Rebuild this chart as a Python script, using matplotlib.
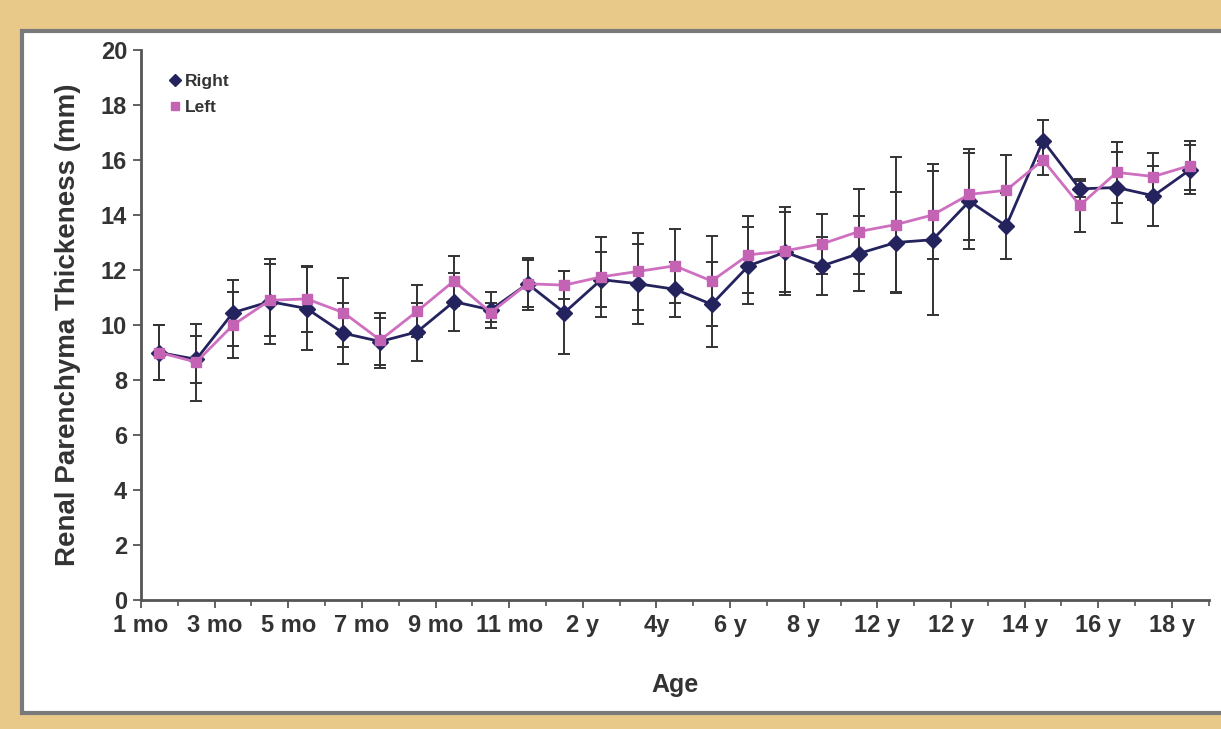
# renal parenchyma thickness by age, right vs left kidney
import numpy as np
import matplotlib
matplotlib.use("Agg")
import matplotlib.pyplot as plt
from matplotlib.patches import Rectangle

plt.rcParams['font.family'] = ['Liberation Sans', 'DejaVu Sans']
plt.rcParams['font.weight'] = 'bold'

ages = ([f"{m} mo" for m in range(1, 12)] + [f"{y} y" for y in range(1, 19)])
tick_labels = ["1 mo", "3 mo", "5 mo", "7 mo", "9 mo", "11 mo", "2 y", "4y", "6 y",
               "8 y", "12 y", "12 y", "14 y", "16 y", "18 y"]

right = [9.0, 8.75, 10.45, 10.85, 10.6, 9.7, 9.4, 9.75, 10.85, 10.55, 11.5, 10.45,
         11.65, 11.5, 11.3, 10.75, 12.15, 12.65, 12.15, 12.6, 13.0, 13.1, 14.5, 13.6,
         16.7, 14.95, 15.0, 14.7, 15.65]
right_err = [1.0, 0.85, 1.2, 1.55, 1.5, 1.1, 0.85, 1.05, 1.05, 0.65, 0.95, 1.5,
             1.0, 1.45, 1.0, 1.55, 1.4, 1.45, 1.05, 1.35, 1.85, 2.75, 1.75, 1.2,
             0.75, 0.3, 1.3, 1.1, 0.9]
left = [9.0, 8.65, 10.0, 10.9, 10.95, 10.45, 9.45, 10.5, 11.6, 10.45, 11.5, 11.45,
        11.75, 11.95, 12.15, 11.6, 12.55, 12.7, 12.95, 13.4, 13.65, 14.0, 14.75, 14.9,
        16.0, 14.35, 15.55, 15.4, 15.8]
left_err = [1.0, 1.4, 1.2, 1.3, 1.2, 1.25, 1.0, 0.95, 0.9, 0.35, 0.85, 0.5,
            1.45, 1.4, 1.35, 1.65, 1.4, 1.6, 1.1, 1.55, 2.45, 1.6, 1.65, 1.3,
            0.55, 0.95, 1.1, 0.85, 0.9]

x = np.arange(len(ages)) + 0.5

fig = plt.figure(figsize=(12.21, 7.29), dpi=100, facecolor="#e8c98a")
# white panel with grey frame, behind the axes
fig.patches.append(Rectangle((22 / 1221, 16 / 729), 1.05, 682 / 729, transform=fig.transFigure,
                             facecolor="white", edgecolor="#7a7a7a", linewidth=3, zorder=-10))

ax = fig.add_axes([141 / 1221, 129 / 729, 1067.7 / 1221, 550 / 729])
ax.set_facecolor("none")

ax.errorbar(x, right, yerr=right_err, fmt="none", ecolor="#333333", elinewidth=1.4,
            capsize=4.5, capthick=1.4, zorder=2)
ax.errorbar(x, left, yerr=left_err, fmt="none", ecolor="#333333", elinewidth=1.4,
            capsize=4.5, capthick=1.4, zorder=2)
ax.plot(x, right, color="#25235e", lw=2, marker="D", ms=8, markerfacecolor="#25235e",
        markeredgecolor="#25235e", label="Right", zorder=3)
ax.plot(x, left, color="#cf6fc0", lw=2, marker="s", ms=7.5, markerfacecolor="#c462b4",
        markeredgecolor="#c462b4", label="Left", zorder=4)

ax.set_xlim(0, len(ages))
ax.set_ylim(0, 20)
ax.set_xticks(np.arange(0, len(ages), 2))
ax.set_xticklabels(tick_labels)
ax.set_xticks(np.arange(1, len(ages) + 1, 2), minor=True)
ax.set_yticks(np.arange(0, 21, 2))

for s in ["top", "right"]:
    ax.spines[s].set_visible(False)
for s in ["left", "bottom"]:
    ax.spines[s].set_color("#555555")
    ax.spines[s].set_linewidth(2)
ax.tick_params(axis="both", which="major", length=6, width=1.3, color="#555555",
               labelsize=17, labelcolor="#333333", pad=4)
ax.tick_params(axis="x", which="minor", length=4, width=1.2, color="#555555")

ax.set_xlabel("Age", fontsize=18, fontweight="bold", color="#333333", labelpad=26)
ax.set_ylabel("Renal Parenchyma Thickeness (mm)", fontsize=20, fontweight="bold",
              color="#333333", labelpad=14)

ax.legend(loc="upper left", bbox_to_anchor=(0.012, 0.985), frameon=False, fontsize=12.5,
          handlelength=0.6, handletextpad=0.3, labelspacing=0.6, markerscale=0.8)
for t in ax.get_legend().get_texts():
    t.set_color("#333333")
ax.get_legend().get_lines()[0].set_linestyle("none")
ax.get_legend().get_lines()[1].set_linestyle("none")

fig.savefig("out.png", dpi=100, facecolor=fig.get_facecolor())
